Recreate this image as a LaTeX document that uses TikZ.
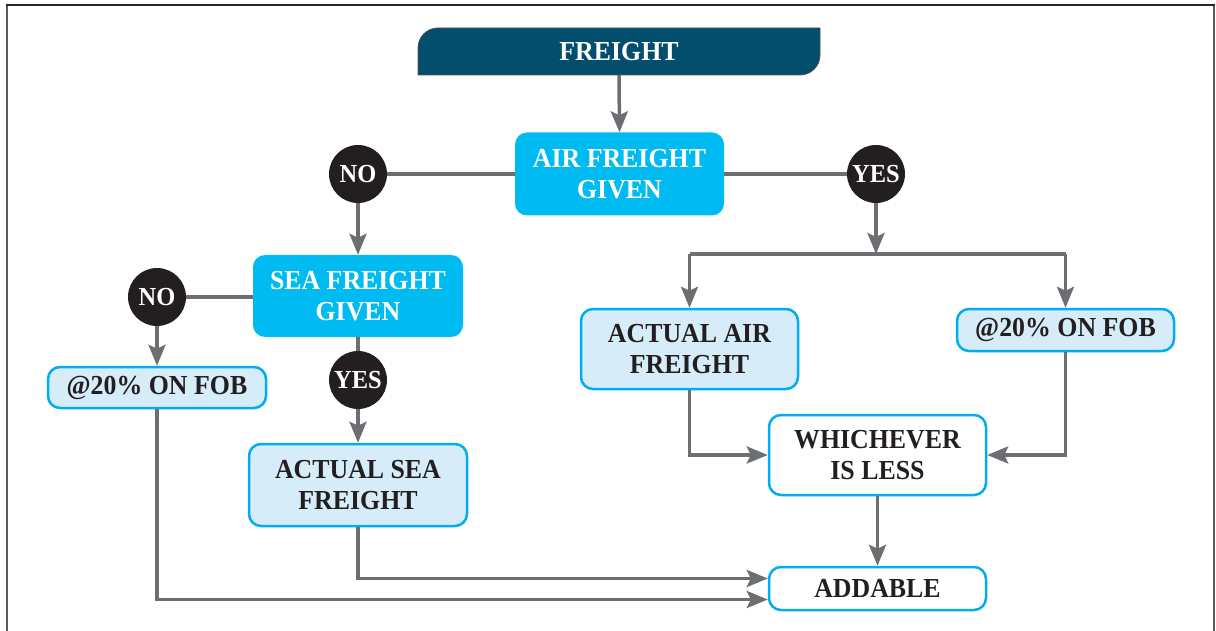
\documentclass[tikz,border=0pt]{standalone}
\usepackage{fontspec}
\setmainfont{Liberation Serif}[FakeStretch=0.94]
\usetikzlibrary{arrows.meta,calc}
\definecolor{teal}{HTML}{034E6D}
\definecolor{cyanbox}{HTML}{00BAF2}
\definecolor{lightbox}{HTML}{D6EDF9}
\definecolor{bordc}{HTML}{00AEEF}
\definecolor{conn}{HTML}{6D6E71}
\definecolor{dark}{HTML}{231F20}
\tikzset{
  txt/.style={font=\fontsize{27.5}{31}\selectfont\bfseries, align=center, inner sep=0pt},
  bluebox/.style={txt, rectangle, rounded corners=12pt, fill=cyanbox, text=white},
  lightnode/.style={txt, rectangle, rounded corners=12pt, fill=lightbox, draw=bordc, line width=2.5pt, text=dark},
  whitenode/.style={txt, rectangle, rounded corners=12pt, fill=white, draw=bordc, line width=2.5pt, text=dark},
  dot/.style={txt, circle, fill=dark, text=white, minimum size=58pt, font=\fontsize{26}{28}\selectfont\bfseries},
  ln/.style={draw=conn, line width=3.5pt},
  arr/.style={ln, -{Stealth[length=21pt,width=17pt,inset=4pt]}},
}
\begin{document}
\begin{tikzpicture}[x=1pt,y=-1pt]
\useasboundingbox (0,0) rectangle (1216,631);
% frame
\draw[line width=1.5pt, draw=black!65] (7,632) -- (7,5);
\draw[line width=1.5pt, draw=black!65] (1214,632) -- (1214,5);
\draw[line width=1.5pt, draw=black!85] (6.25,5) -- (1214.75,5);
% FREIGHT header shape
\filldraw[fill=teal, draw=black!70, line width=0.8pt] (418,75) -- (418,48) arc[start angle=180,end angle=90,radius=20pt] -- (820,28) -- (820,55) arc[start angle=0,end angle=-90,radius=20pt] -- cycle;
\node[txt, text=white, minimum width=402pt, minimum height=47pt] (freight) at (619,51.5) {FREIGHT};
% nodes
\node[bluebox, minimum width=209pt, minimum height=83pt] (air) at (619.5,174) {AIR FREIGHT\\GIVEN};
\node[dot] (no1) at (358,174) {NO};
\node[dot] (yes1) at (876,174) {YES};
\node[bluebox, minimum width=210pt, minimum height=82pt] (sea) at (358,296) {SEA FREIGHT\\GIVEN};
\node[dot] (no2) at (157,297) {NO};
\node[lightnode, minimum width=218pt, minimum height=41pt] (fobL) at (157,387.5) {@20\% ON FOB};
\node[dot] (yes2) at (358,380) {YES};
\node[lightnode, minimum width=218pt, minimum height=82pt] (seaA) at (358,485) {ACTUAL SEA\\FREIGHT};
\node[lightnode, minimum width=217pt, minimum height=80pt] (airA) at (689.5,349) {ACTUAL AIR\\FREIGHT};
\node[lightnode, minimum width=217pt, minimum height=42pt] (fobR) at (1065.5,330) {@20\% ON FOB};
\node[whitenode, minimum width=217pt, minimum height=80pt] (less) at (877.5,455) {WHICHEVER\\IS LESS};
\node[whitenode, minimum width=217pt, minimum height=43pt] (add) at (877.5,588.5) {ADDABLE};
\coordinate (split) at (876,254);
% connectors
\draw[arr] (freight.south) -- (air.north);
\draw[ln] (no1) -- (no1 -| air.west);
\draw[ln] (air.east |- yes1) -- (yes1);
\draw[arr] (no1) -- (sea.north);
\draw[ln] (no2) -- (no2 -| sea.west);
\draw[arr] (no2) -- (fobL.north);
\draw[ln] (sea.south) -- (yes2);
\draw[arr] (yes2) -- (seaA.north);
\draw[arr] (yes1) -- (split);
\draw[ln] (airA.north |- split) -- (fobR.north |- split);
\draw[arr] (airA.north |- split) -- (airA.north);
\draw[arr] (fobR.north |- split) -- (fobR.north);
\draw[arr] (airA.south) |- (less.west);
\draw[arr] (fobR.south) |- (less.east);
\draw[arr] (less.south) -- (add.north);
\draw[arr] (seaA.south) |- ([yshift=10pt]add.west);
\draw[arr] (fobL.south) |- ([yshift=-11pt]add.west);
\end{tikzpicture}
\end{document}
